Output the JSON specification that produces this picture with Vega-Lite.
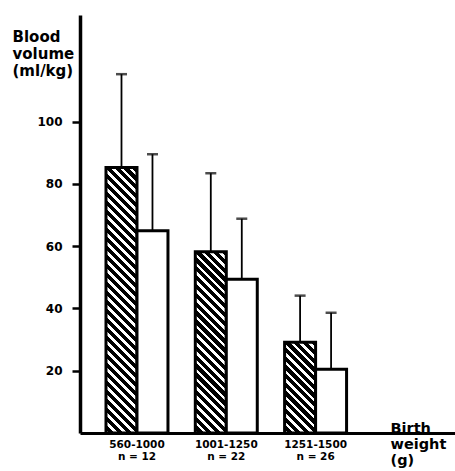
{
  "$schema": "https://vega.github.io/schema/vega-lite/v6.json",
  "width": 375,
  "height": 418,
  "autosize": "none",
  "padding": {"left": 80, "top": 15, "right": 0, "bottom": 38},
  "background": "white",
  "config": {"view": {"stroke": null}, "font": "DejaVu Sans"},
  "data": {
    "values": [
      {"group": "560-1000", "series": "A", "value": 85.2, "upper": 115.2},
      {"group": "560-1000", "series": "B", "value": 64.9, "upper": 89.5},
      {"group": "1001-1250", "series": "A", "value": 58.2, "upper": 83.4},
      {"group": "1001-1250", "series": "B", "value": 49.4, "upper": 68.8},
      {"group": "1251-1500", "series": "A", "value": 29.1, "upper": 44.1},
      {"group": "1251-1500", "series": "B", "value": 20.5, "upper": 38.6}
    ]
  },
  "encoding": {
    "x": {
      "field": "group",
      "type": "nominal",
      "sort": ["560-1000", "1001-1250", "1251-1500"],
      "scale": {"paddingInner": 0.306, "paddingOuter": 0.7526, "align": 0.1934},
      "axis": {
        "domainColor": "black",
        "domainWidth": 3,
        "ticks": false,
        "tickSize": 0,
        "labelAngle": 0,
        "labelAlign": "center",
        "labelBaseline": "top",
        "labelPadding": 6,
        "labelFont": "DejaVu Sans",
        "labelFontWeight": "bold",
        "labelFontSize": 10.5,
        "labelColor": "black",
        "labelLineHeight": 12,
        "labelExpr": "datum.value == '560-1000' ? ['560-1000', 'n = 12'] : datum.value == '1001-1250' ? ['1001-1250', 'n = 22'] : ['1251-1500', 'n = 26']",
        "title": ["Birth", "weight", "(g)"],
        "titleAngle": 0,
        "titleAlign": "left",
        "titleBaseline": "alphabetic",
        "titleX": 310,
        "titleY": -1,
        "titleFont": "DejaVu Sans",
        "titleFontWeight": "bold",
        "titleFontSize": 14.5,
        "titleLineHeight": 16,
        "titleColor": "black"
      }
    },
    "xOffset": {"field": "series", "type": "nominal", "sort": ["A", "B"]},
    "y": {
      "type": "quantitative",
      "scale": {"domain": [0, 134.2], "nice": false},
      "axis": {
        "values": [20, 40, 60, 80, 100],
        "grid": false,
        "domainColor": "black",
        "domainWidth": 3.5,
        "tickColor": "black",
        "tickSize": 8,
        "tickWidth": 2.5,
        "labelPadding": 10,
        "labelFont": "DejaVu Sans",
        "labelFontWeight": "bold",
        "labelFontSize": 12,
        "labelColor": "black",
        "title": ["Blood", "volume", "(ml/kg)"],
        "titleAngle": 0,
        "titleAlign": "left",
        "titleBaseline": "top",
        "titleX": -68,
        "titleY": 14,
        "titleFont": "DejaVu Sans",
        "titleFontWeight": "bold",
        "titleFontSize": 15,
        "titleLineHeight": 17,
        "titleColor": "black"
      }
    }
  },
  "layer": [
    {
      "mark": {"type": "bar", "stroke": "black", "strokeWidth": 3},
      "encoding": {
        "y": {"field": "value"},
        "fill": {
          "condition": [
            {
              "test": "datum.series == 'A' && datum.group == '560-1000'",
              "value": {
                "gradient": "linear", "x1": 1, "y1": 0, "x2": 0.8713, "y2": 1.1018,
                "stops": [
                  {"offset": 0, "color": "#000"},
                  {"offset": 0.01818, "color": "#000"}, {"offset": 0.01818, "color": "#fff"}, {"offset": 0.0303, "color": "#fff"}, {"offset": 0.0303, "color": "#000"},
                  {"offset": 0.04848, "color": "#000"}, {"offset": 0.04848, "color": "#fff"}, {"offset": 0.06061, "color": "#fff"}, {"offset": 0.06061, "color": "#000"},
                  {"offset": 0.07879, "color": "#000"}, {"offset": 0.07879, "color": "#fff"}, {"offset": 0.09091, "color": "#fff"}, {"offset": 0.09091, "color": "#000"},
                  {"offset": 0.10909, "color": "#000"}, {"offset": 0.10909, "color": "#fff"}, {"offset": 0.12121, "color": "#fff"}, {"offset": 0.12121, "color": "#000"},
                  {"offset": 0.13939, "color": "#000"}, {"offset": 0.13939, "color": "#fff"}, {"offset": 0.15152, "color": "#fff"}, {"offset": 0.15152, "color": "#000"},
                  {"offset": 0.1697, "color": "#000"}, {"offset": 0.1697, "color": "#fff"}, {"offset": 0.18182, "color": "#fff"}, {"offset": 0.18182, "color": "#000"},
                  {"offset": 0.2, "color": "#000"}, {"offset": 0.2, "color": "#fff"}, {"offset": 0.21212, "color": "#fff"}, {"offset": 0.21212, "color": "#000"},
                  {"offset": 0.2303, "color": "#000"}, {"offset": 0.2303, "color": "#fff"}, {"offset": 0.24242, "color": "#fff"}, {"offset": 0.24242, "color": "#000"},
                  {"offset": 0.26061, "color": "#000"}, {"offset": 0.26061, "color": "#fff"}, {"offset": 0.27273, "color": "#fff"}, {"offset": 0.27273, "color": "#000"},
                  {"offset": 0.29091, "color": "#000"}, {"offset": 0.29091, "color": "#fff"}, {"offset": 0.30303, "color": "#fff"}, {"offset": 0.30303, "color": "#000"},
                  {"offset": 0.32121, "color": "#000"}, {"offset": 0.32121, "color": "#fff"}, {"offset": 0.33333, "color": "#fff"}, {"offset": 0.33333, "color": "#000"},
                  {"offset": 0.35152, "color": "#000"}, {"offset": 0.35152, "color": "#fff"}, {"offset": 0.36364, "color": "#fff"}, {"offset": 0.36364, "color": "#000"},
                  {"offset": 0.38182, "color": "#000"}, {"offset": 0.38182, "color": "#fff"}, {"offset": 0.39394, "color": "#fff"}, {"offset": 0.39394, "color": "#000"},
                  {"offset": 0.41212, "color": "#000"}, {"offset": 0.41212, "color": "#fff"}, {"offset": 0.42424, "color": "#fff"}, {"offset": 0.42424, "color": "#000"},
                  {"offset": 0.44242, "color": "#000"}, {"offset": 0.44242, "color": "#fff"}, {"offset": 0.45455, "color": "#fff"}, {"offset": 0.45455, "color": "#000"},
                  {"offset": 0.47273, "color": "#000"}, {"offset": 0.47273, "color": "#fff"}, {"offset": 0.48485, "color": "#fff"}, {"offset": 0.48485, "color": "#000"},
                  {"offset": 0.50303, "color": "#000"}, {"offset": 0.50303, "color": "#fff"}, {"offset": 0.51515, "color": "#fff"}, {"offset": 0.51515, "color": "#000"},
                  {"offset": 0.53333, "color": "#000"}, {"offset": 0.53333, "color": "#fff"}, {"offset": 0.54545, "color": "#fff"}, {"offset": 0.54545, "color": "#000"},
                  {"offset": 0.56364, "color": "#000"}, {"offset": 0.56364, "color": "#fff"}, {"offset": 0.57576, "color": "#fff"}, {"offset": 0.57576, "color": "#000"},
                  {"offset": 0.59394, "color": "#000"}, {"offset": 0.59394, "color": "#fff"}, {"offset": 0.60606, "color": "#fff"}, {"offset": 0.60606, "color": "#000"},
                  {"offset": 0.62424, "color": "#000"}, {"offset": 0.62424, "color": "#fff"}, {"offset": 0.63636, "color": "#fff"}, {"offset": 0.63636, "color": "#000"},
                  {"offset": 0.65455, "color": "#000"}, {"offset": 0.65455, "color": "#fff"}, {"offset": 0.66667, "color": "#fff"}, {"offset": 0.66667, "color": "#000"},
                  {"offset": 0.68485, "color": "#000"}, {"offset": 0.68485, "color": "#fff"}, {"offset": 0.69697, "color": "#fff"}, {"offset": 0.69697, "color": "#000"},
                  {"offset": 0.71515, "color": "#000"}, {"offset": 0.71515, "color": "#fff"}, {"offset": 0.72727, "color": "#fff"}, {"offset": 0.72727, "color": "#000"},
                  {"offset": 0.74545, "color": "#000"}, {"offset": 0.74545, "color": "#fff"}, {"offset": 0.75758, "color": "#fff"}, {"offset": 0.75758, "color": "#000"},
                  {"offset": 0.77576, "color": "#000"}, {"offset": 0.77576, "color": "#fff"}, {"offset": 0.78788, "color": "#fff"}, {"offset": 0.78788, "color": "#000"},
                  {"offset": 0.80606, "color": "#000"}, {"offset": 0.80606, "color": "#fff"}, {"offset": 0.81818, "color": "#fff"}, {"offset": 0.81818, "color": "#000"},
                  {"offset": 0.83636, "color": "#000"}, {"offset": 0.83636, "color": "#fff"}, {"offset": 0.84848, "color": "#fff"}, {"offset": 0.84848, "color": "#000"},
                  {"offset": 0.86667, "color": "#000"}, {"offset": 0.86667, "color": "#fff"}, {"offset": 0.87879, "color": "#fff"}, {"offset": 0.87879, "color": "#000"},
                  {"offset": 0.89697, "color": "#000"}, {"offset": 0.89697, "color": "#fff"}, {"offset": 0.90909, "color": "#fff"}, {"offset": 0.90909, "color": "#000"},
                  {"offset": 0.92727, "color": "#000"}, {"offset": 0.92727, "color": "#fff"}, {"offset": 0.93939, "color": "#fff"}, {"offset": 0.93939, "color": "#000"},
                  {"offset": 0.95758, "color": "#000"}, {"offset": 0.95758, "color": "#fff"}, {"offset": 0.9697, "color": "#fff"}, {"offset": 0.9697, "color": "#000"},
                  {"offset": 0.98788, "color": "#000"}, {"offset": 0.98788, "color": "#fff"}, {"offset": 1, "color": "#fff"}
                ]
              }
            },
            {
              "test": "datum.series == 'A' && datum.group == '1001-1250'",
              "value": {
                "gradient": "linear", "x1": 1, "y1": 0, "x2": 0.8055, "y2": 1.1377,
                "stops": [
                  {"offset": 0, "color": "#000"},
                  {"offset": 0.025, "color": "#000"}, {"offset": 0.025, "color": "#fff"}, {"offset": 0.04167, "color": "#fff"}, {"offset": 0.04167, "color": "#000"},
                  {"offset": 0.06667, "color": "#000"}, {"offset": 0.06667, "color": "#fff"}, {"offset": 0.08333, "color": "#fff"}, {"offset": 0.08333, "color": "#000"},
                  {"offset": 0.10833, "color": "#000"}, {"offset": 0.10833, "color": "#fff"}, {"offset": 0.125, "color": "#fff"}, {"offset": 0.125, "color": "#000"},
                  {"offset": 0.15, "color": "#000"}, {"offset": 0.15, "color": "#fff"}, {"offset": 0.16667, "color": "#fff"}, {"offset": 0.16667, "color": "#000"},
                  {"offset": 0.19167, "color": "#000"}, {"offset": 0.19167, "color": "#fff"}, {"offset": 0.20833, "color": "#fff"}, {"offset": 0.20833, "color": "#000"},
                  {"offset": 0.23333, "color": "#000"}, {"offset": 0.23333, "color": "#fff"}, {"offset": 0.25, "color": "#fff"}, {"offset": 0.25, "color": "#000"},
                  {"offset": 0.275, "color": "#000"}, {"offset": 0.275, "color": "#fff"}, {"offset": 0.29167, "color": "#fff"}, {"offset": 0.29167, "color": "#000"},
                  {"offset": 0.31667, "color": "#000"}, {"offset": 0.31667, "color": "#fff"}, {"offset": 0.33333, "color": "#fff"}, {"offset": 0.33333, "color": "#000"},
                  {"offset": 0.35833, "color": "#000"}, {"offset": 0.35833, "color": "#fff"}, {"offset": 0.375, "color": "#fff"}, {"offset": 0.375, "color": "#000"},
                  {"offset": 0.4, "color": "#000"}, {"offset": 0.4, "color": "#fff"}, {"offset": 0.41667, "color": "#fff"}, {"offset": 0.41667, "color": "#000"},
                  {"offset": 0.44167, "color": "#000"}, {"offset": 0.44167, "color": "#fff"}, {"offset": 0.45833, "color": "#fff"}, {"offset": 0.45833, "color": "#000"},
                  {"offset": 0.48333, "color": "#000"}, {"offset": 0.48333, "color": "#fff"}, {"offset": 0.5, "color": "#fff"}, {"offset": 0.5, "color": "#000"},
                  {"offset": 0.525, "color": "#000"}, {"offset": 0.525, "color": "#fff"}, {"offset": 0.54167, "color": "#fff"}, {"offset": 0.54167, "color": "#000"},
                  {"offset": 0.56667, "color": "#000"}, {"offset": 0.56667, "color": "#fff"}, {"offset": 0.58333, "color": "#fff"}, {"offset": 0.58333, "color": "#000"},
                  {"offset": 0.60833, "color": "#000"}, {"offset": 0.60833, "color": "#fff"}, {"offset": 0.625, "color": "#fff"}, {"offset": 0.625, "color": "#000"},
                  {"offset": 0.65, "color": "#000"}, {"offset": 0.65, "color": "#fff"}, {"offset": 0.66667, "color": "#fff"}, {"offset": 0.66667, "color": "#000"},
                  {"offset": 0.69167, "color": "#000"}, {"offset": 0.69167, "color": "#fff"}, {"offset": 0.70833, "color": "#fff"}, {"offset": 0.70833, "color": "#000"},
                  {"offset": 0.73333, "color": "#000"}, {"offset": 0.73333, "color": "#fff"}, {"offset": 0.75, "color": "#fff"}, {"offset": 0.75, "color": "#000"},
                  {"offset": 0.775, "color": "#000"}, {"offset": 0.775, "color": "#fff"}, {"offset": 0.79167, "color": "#fff"}, {"offset": 0.79167, "color": "#000"},
                  {"offset": 0.81667, "color": "#000"}, {"offset": 0.81667, "color": "#fff"}, {"offset": 0.83333, "color": "#fff"}, {"offset": 0.83333, "color": "#000"},
                  {"offset": 0.85833, "color": "#000"}, {"offset": 0.85833, "color": "#fff"}, {"offset": 0.875, "color": "#fff"}, {"offset": 0.875, "color": "#000"},
                  {"offset": 0.9, "color": "#000"}, {"offset": 0.9, "color": "#fff"}, {"offset": 0.91667, "color": "#fff"}, {"offset": 0.91667, "color": "#000"},
                  {"offset": 0.94167, "color": "#000"}, {"offset": 0.94167, "color": "#fff"}, {"offset": 0.95833, "color": "#fff"}, {"offset": 0.95833, "color": "#000"},
                  {"offset": 0.98333, "color": "#000"}, {"offset": 0.98333, "color": "#fff"}, {"offset": 1, "color": "#fff"}
                ]
              }
            },
            {
              "test": "datum.series == 'A' && datum.group == '1251-1500'",
              "value": {
                "gradient": "linear", "x1": 1, "y1": 0, "x2": 0.5889, "y2": 1.2015,
                "stops": [
                  {"offset": 0, "color": "#000"},
                  {"offset": 0.04286, "color": "#000"}, {"offset": 0.04286, "color": "#fff"}, {"offset": 0.07143, "color": "#fff"}, {"offset": 0.07143, "color": "#000"},
                  {"offset": 0.11429, "color": "#000"}, {"offset": 0.11429, "color": "#fff"}, {"offset": 0.14286, "color": "#fff"}, {"offset": 0.14286, "color": "#000"},
                  {"offset": 0.18571, "color": "#000"}, {"offset": 0.18571, "color": "#fff"}, {"offset": 0.21429, "color": "#fff"}, {"offset": 0.21429, "color": "#000"},
                  {"offset": 0.25714, "color": "#000"}, {"offset": 0.25714, "color": "#fff"}, {"offset": 0.28571, "color": "#fff"}, {"offset": 0.28571, "color": "#000"},
                  {"offset": 0.32857, "color": "#000"}, {"offset": 0.32857, "color": "#fff"}, {"offset": 0.35714, "color": "#fff"}, {"offset": 0.35714, "color": "#000"},
                  {"offset": 0.4, "color": "#000"}, {"offset": 0.4, "color": "#fff"}, {"offset": 0.42857, "color": "#fff"}, {"offset": 0.42857, "color": "#000"},
                  {"offset": 0.47143, "color": "#000"}, {"offset": 0.47143, "color": "#fff"}, {"offset": 0.5, "color": "#fff"}, {"offset": 0.5, "color": "#000"},
                  {"offset": 0.54286, "color": "#000"}, {"offset": 0.54286, "color": "#fff"}, {"offset": 0.57143, "color": "#fff"}, {"offset": 0.57143, "color": "#000"},
                  {"offset": 0.61429, "color": "#000"}, {"offset": 0.61429, "color": "#fff"}, {"offset": 0.64286, "color": "#fff"}, {"offset": 0.64286, "color": "#000"},
                  {"offset": 0.68571, "color": "#000"}, {"offset": 0.68571, "color": "#fff"}, {"offset": 0.71429, "color": "#fff"}, {"offset": 0.71429, "color": "#000"},
                  {"offset": 0.75714, "color": "#000"}, {"offset": 0.75714, "color": "#fff"}, {"offset": 0.78571, "color": "#fff"}, {"offset": 0.78571, "color": "#000"},
                  {"offset": 0.82857, "color": "#000"}, {"offset": 0.82857, "color": "#fff"}, {"offset": 0.85714, "color": "#fff"}, {"offset": 0.85714, "color": "#000"},
                  {"offset": 0.9, "color": "#000"}, {"offset": 0.9, "color": "#fff"}, {"offset": 0.92857, "color": "#fff"}, {"offset": 0.92857, "color": "#000"},
                  {"offset": 0.97143, "color": "#000"}, {"offset": 0.97143, "color": "#fff"}, {"offset": 1, "color": "#fff"}
                ]
              }
            }
          ],
          "value": "white"
        }
      }
    },
    {
      "mark": {"type": "rule", "color": "black", "strokeWidth": 1.8},
      "encoding": {
        "y": {"field": "value"},
        "y2": {"field": "upper"}
      }
    },
    {
      "mark": {"type": "tick", "color": "black", "size": 11, "thickness": 2.5},
      "encoding": {
        "y": {"field": "upper"}
      }
    }
  ]
}
